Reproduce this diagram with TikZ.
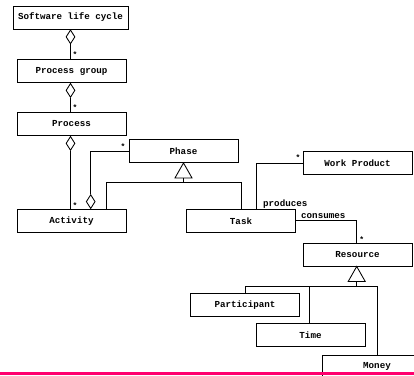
\documentclass[tikz,border=0pt]{standalone}
\usepackage{fontspec}
\setmonofont{Liberation Mono}
\usetikzlibrary{shapes.geometric,calc}
\definecolor{rule}{RGB}{255,0,110}
\begin{document}
\begin{tikzpicture}[x=1pt,y=-1pt,
  cls/.style={draw, line width=0.9pt, fill=white, inner sep=0pt,
    minimum width=109pt, minimum height=23pt,
    font=\ttfamily\bfseries\fontsize{9.2}{10}\selectfont},
  link/.style={line width=0.85pt},
  agg/.style={draw, diamond, line width=0.85pt, fill=white, inner sep=0pt,
    minimum width=9pt, minimum height=14pt},
  mult/.style={font=\ttfamily\bfseries\fontsize{8}{8}\selectfont, inner sep=0pt},
  lbl/.style={font=\ttfamily\bfseries\fontsize{9.2}{10}\selectfont, inner sep=0pt}]
\useasboundingbox (0,0) rectangle (414,375);
\clip (0,0) rectangle (414,375);

% classes
\node[cls, minimum width=115pt] (slc) at (70.5,17.5) {Software life cycle};
\node[cls] (pg)   at (71.5,71)    {Process group};
\node[cls] (proc) at (71.5,124)   {Process};
\node[cls] (act)  at (71.5,221)   {Activity};
\node[cls] (ph)   at (183.5,151)  {Phase};
\node[cls] (task) at (241,221)    {Task};
\node[cls] (wp)   at (357.5,163)  {Work Product};
\node[cls] (res)  at (357.5,254.5){Resource};
\node[cls] (part) at (245,305)    {Participant};
\node[cls] (time) at (310.5,335)  {Time};
\node[cls] (mon)  at (377,366.5)  {Money};

% aggregation: Software life cycle -> Process group
\node[agg, anchor=north] (d1) at (slc.south) {};
\draw[link] (d1.south) -- (d1.south |- pg.north);
\node[mult] at (75,55) {*};

% aggregation: Process group -> Process
\node[agg, anchor=north] (d2) at (pg.south -| d1) {};
\draw[link] (d2.south) -- (d2.south |- proc.north);
\node[mult] at (75,108) {*};

% aggregation: Process -> Activity
\node[agg, anchor=north] (d3) at (proc.south -| d1) {};
\draw[link] (d3.south) -- (d3.south |- act.north);
\node[mult] at (75,205.5) {*};

% aggregation: Activity <>- Phase
\node[agg, anchor=south] (d4) at (act.north -| 90.7,0) {};
\draw[link] (d4.north) |- (ph.west |- 0,151.5);
\node[mult] at (123,146.5) {*};

% generalization: Phase <- Activity, Task
\coordinate (t1) at (ph.south);
\draw[link, fill=white] (t1) -- ++(8.5,15) -- ++(-17,0) -- cycle;
\coordinate (t1b) at ($(t1)+(0,15)$);
\coordinate (g1) at ($(t1b)+(0,4)$);
\draw[link] (t1b) -- (g1);
\draw[link] (act.north -| 106.7,0) |- (g1) -| (task.north);

% association: Task produces Work Product
\draw[link] (task.north -| 256.7,0) |- (wp.west |- 0,163.5);
\node[mult] at (298,157.5) {*};
\node[lbl, anchor=base west] at (263,206) {produces};

% association: Task consumes Resource
\coordinate (c1) at (356.7,220);
\draw[link] (task.east |- c1) -- (c1) -- (c1 |- res.north);
\node[lbl, anchor=base west] at (301,218.5) {consumes};
\node[mult] at (361.7,239.5) {*};

% generalization: Resource <- Participant, Time, Money
\coordinate (t2) at (res.south -| c1);
\draw[link, fill=white] (t2) -- ++(8.5,15) -- ++(-17,0) -- cycle;
\coordinate (t2b) at ($(t2)+(0,15)$);
\coordinate (g2) at ($(t2b)+(0,4.5)$);
\draw[link] (t2b) -- (g2);
\draw[link] (part.north) |- (g2);
\draw[link] (time.north -| 309.3,0) -- (309.3,0 |- g2);
\draw[link] (g2) -| (mon.north);

% page rule
\fill[rule] (0,371.5) rectangle (414,375);
\end{tikzpicture}
\end{document}
